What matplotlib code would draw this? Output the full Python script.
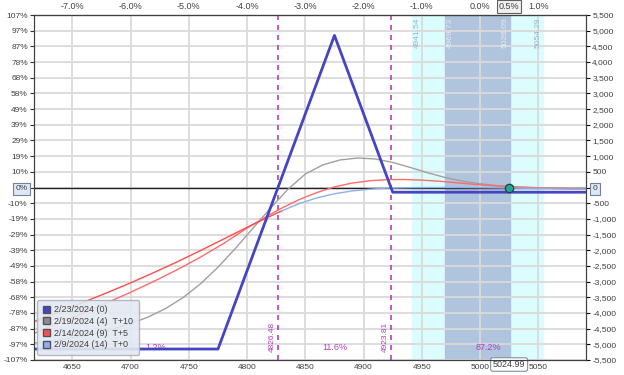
import matplotlib.pyplot as plt
from matplotlib.patches import Patch

plt.rcParams['font.family'] = ['Liberation Sans', 'DejaVu Sans']

# expiration line 2/23/2024 (0)
exp_x = [4617, 4775, 4875, 4925, 5091]
exp_y = [-5150, -5150, 4850, -150, -150]

# 2/19/2024 (4) T+10
t10_x = [4617, 4640, 4660, 4680, 4700, 4715, 4730, 4745, 4760, 4775, 4790, 4805, 4820, 4835, 4850,
         4865, 4880, 4895, 4910, 4925, 4940, 4955, 4970, 4985, 5000, 5015, 5030, 5050, 5070, 5091]
t10_y = [-4960, -4850, -4730, -4560, -4340, -4130, -3860, -3510, -3070, -2540, -1940, -1300, -660, -60, 430,
         720, 880, 940, 910, 800, 640, 470, 320, 200, 120, 60, 20, -5, -15, -25]

# 2/14/2024 (9) T+5
t5_x = [4617, 4640, 4660, 4680, 4700, 4720, 4740, 4760, 4780, 4800, 4815, 4830, 4845, 4860, 4875,
        4890, 4905, 4920, 4935, 4950, 4965, 4980, 4995, 5010, 5025, 5040, 5060, 5091]
t5_y = [-4650, -4300, -3990, -3670, -3340, -2990, -2620, -2220, -1780, -1290, -960, -650, -380, -160, 20,
        140, 215, 250, 255, 235, 200, 150, 100, 60, 25, 0, -25, -55]

# 2/9/2024 (14) T+0 (red left of split, blue right of it)
t0_x = [4617, 4640, 4660, 4680, 4700, 4720, 4740, 4760, 4780, 4800, 4815, 4830, 4845, 4860, 4875,
        4890, 4905, 4920, 4940, 4960, 4980, 5000, 5030, 5060, 5091]
t0_y = [-4280, -3940, -3650, -3350, -3040, -2710, -2370, -2010, -1640, -1270, -1000, -740, -510, -330, -200,
        -110, -55, -20, -5, 0, 0, -5, -20, -40, -60]
t0_split = 4830

breakevens = [4826.48, 4923.81]
region_pct = ['1.2%', '11.6%', '87.2%']
outer_band = [4941.54, 5054.29]
inner_band = [4969.73, 5026.09]
price = 5024.99

x_ticks = [4650, 4700, 4750, 4800, 4850, 4900, 4950, 5000, 5050]
top_labels = ['-7.0%', '-6.0%', '-5.0%', '-4.0%', '-3.0%', '-2.0%', '-1.0%', '0.0%', '1.0%']
y_ticks = list(range(-5500, 5501, 500))
left_labels = ['-107%', '-97%', '-87%', '-78%', '-68%', '-58%', '-49%', '-39%', '-29%', '-19%', '-10%', '0%',
               '10%', '19%', '29%', '39%', '49%', '58%', '68%', '78%', '87%', '97%', '107%']

legend_labels = ['2/23/2024 (0)', '2/19/2024 (4)  T+10', '2/14/2024 (9)  T+5', '2/9/2024 (14)  T+0']
c_exp, c_t10, c_t5, c_t0, c_t0b = '#4444c4', '#a0a0a0', '#ff6a6a', '#ff4c4c', '#8fb0ec'
magenta = '#b040b8'
txt = '#404040'

fig = plt.figure(figsize=(6.24, 3.75), dpi=100)
ax = fig.add_axes([34 / 624, 15 / 375, 552 / 624, 345 / 375])
xmin, xmax = 4617, 5091
ax.set_xlim(xmin, xmax)
ax.set_ylim(-5500, 5500)

ax.axvspan(outer_band[0], outer_band[1], color='#dcfdfd', zorder=0)
ax.axvspan(inner_band[0], inner_band[1], color='#b0c4de', zorder=0)
ax.grid(True, color='#dadada', lw=1.3, zorder=0.5)
ax.set_axisbelow(True)
ax.axhline(0, color='#202020', lw=1, zorder=2)

for b in breakevens:
    ax.axvline(b, color=magenta, lw=1.2, ls=(0, (3, 3)), zorder=3)
    ax.text(b - 2, -5250, f'{b:.2f}', rotation=90, ha='right', va='bottom',
            color=magenta, fontsize=6)

edges = [xmin] + breakevens + [xmax]
for i, p in enumerate(region_pct):
    ax.text((edges[i] + edges[i + 1]) / 2, -5100, p, ha='center', va='center',
            color=magenta, fontsize=6.5)

for v, ha, col in [(outer_band[0], 'left', '#98b4cc'), (inner_band[0], 'left', '#e4ecf4'),
                   (inner_band[1], 'right', '#e4ecf4'), (outer_band[1], 'right', '#98b4cc')]:
    off = 1.5 if ha == 'left' else -1.5
    ax.text(v + off, 5420, f'{v:.2f}', rotation=90, ha=ha, va='top', color=col, fontsize=6)

ax.plot(t10_x, t10_y, color=c_t10, lw=1, zorder=4)
ax.plot(t5_x, t5_y, color=c_t5, lw=1, zorder=4)
left = [(x, y) for x, y in zip(t0_x, t0_y) if x <= t0_split]
right = [(x, y) for x, y in zip(t0_x, t0_y) if x >= t0_split]
ax.plot(*zip(*left), color=c_t0, lw=1, zorder=4)
ax.plot(*zip(*right), color=c_t0b, lw=1, zorder=4)
ax.plot(exp_x, exp_y, color=c_exp, lw=2, zorder=5)
ax.plot([price], [0], 'o', ms=6, mfc='#20a898', mec='#204848', mew=1, zorder=6)

ax.set_xticks(x_ticks)
ax.set_xticklabels([str(x) for x in x_ticks])
ax.set_yticks(y_ticks)
ax.set_yticklabels(left_labels)
ax.tick_params(axis='both', labelsize=6, colors='#303030', labelcolor=txt, length=3, pad=1.5)
ax.tick_params(axis='x', length=0, pad=3)

top = ax.secondary_xaxis('top')
top.set_xticks(x_ticks)
top.set_xticklabels(top_labels)
top.tick_params(labelsize=6.5, labelcolor=txt, length=0, pad=3)

right_ax = ax.twinx()
right_ax.set_ylim(-5500, 5500)
right_ax.set_yticks(y_ticks)
right_ax.set_yticklabels([f'{v:,}' for v in y_ticks])
right_ax.tick_params(labelsize=6, labelcolor=txt, length=3, pad=1.5)

box = dict(boxstyle='square,pad=0.3', fc='#dde8f6', ec='#7080a0', lw=0.8)
for lab in ax.get_yticklabels():
    if lab.get_text() == '0%':
        lab.set_bbox(box)
for lab in right_ax.get_yticklabels():
    if lab.get_text() == '0':
        lab.set_bbox(box)
ax.text(price, -5500, f'{price:.2f}', ha='center', va='top', fontsize=6.5, color=txt,
        bbox=dict(boxstyle='round,pad=0.25', fc='white', ec='#8090a8', lw=0.8),
        transform=ax.transData, clip_on=False)
ax.annotate('0.5%', (price, 5500), xytext=(0, 3), textcoords='offset points', ha='center',
            va='bottom', fontsize=6.5, color=txt, annotation_clip=False,
            bbox=dict(boxstyle='square,pad=0.2', fc='#f0f0f0', ec='#606060', lw=0.8))

for s in list(ax.spines.values()) + list(right_ax.spines.values()):
    s.set_color('#404040')

handles = [Patch(facecolor=c, edgecolor='#505060') for c in [c_exp, '#8c8c8c', '#ff5050', c_t0b]]
leg = ax.legend(handles, legend_labels, loc='lower left', bbox_to_anchor=(0.006, 0.015),
                borderaxespad=0, fontsize=6.5, fancybox=True,
                framealpha=0.9, facecolor='#e4e9f2', edgecolor='#a8b0c0', handlelength=0.8,
                handleheight=0.8, handletextpad=0.5, labelspacing=0.3, borderpad=0.6)
leg.set_zorder(10)
for t in leg.get_texts():
    t.set_color(txt)

fig.savefig('out.png', dpi=100)
